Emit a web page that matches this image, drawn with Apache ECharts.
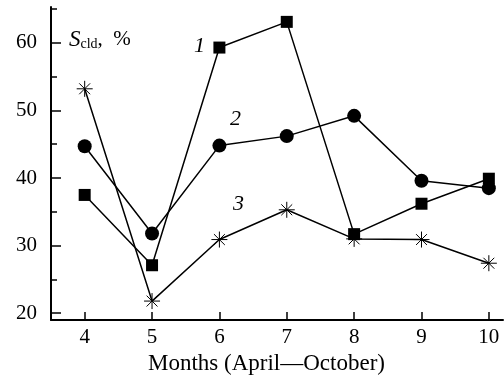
<!DOCTYPE html>
<html><head><meta charset="utf-8">
<script src="https://cdn.jsdelivr.net/npm/echarts@6/dist/echarts.min.js"></script>
<style>html,body{margin:0;padding:0;background:#fff}#c{width:504px;height:383px}</style>
</head><body><div id="c"></div>
<script>
const months = [4, 5, 6, 7, 8, 9, 10];
const series1 = [37.5, 27.1, 59.3, 63.1, 31.7, 36.2, 39.9];
const series2 = [44.7, 31.8, 44.8, 46.2, 49.2, 39.6, 38.5];
const series3 = [53.2, 21.8, 30.9, 35.3, 31.0, 30.9, 27.4];
const yMajorTicks = [20, 30, 40, 50, 60];
const yMinorTicks = [25, 35, 45, 55, 65];
const xTicks = [4, 5, 6, 7, 8, 9, 10];

const FONT = '"Liberation Serif", "DejaVu Serif", serif';
const star = 'path://M0,5L10,5M5,0L5,10M1.6,1.6L8.4,8.4M1.6,8.4L8.4,1.6';
const pairs = arr => months.map((m, i) => [m, arr[i]]);

const chart = echarts.init(document.getElementById('c'), null, {renderer: 'canvas'});
chart.setOption({
  animation: false,
  backgroundColor: '#fff',
  grid: {left: 51, right: 1, top: 7, height: 313},
  xAxis: {
    type: 'value', min: 3.5, max: 10.21,
    axisLine: {lineStyle: {color: '#000', width: 2}},
    axisTick: {inside: true, length: 8, lineStyle: {color: '#000', width: 1.5}, customValues: xTicks},
    axisLabel: {color: '#000', fontFamily: FONT, fontSize: 21, margin: 7, customValues: xTicks},
    splitLine: {show: false},
    name: 'Months (April\u2014October)', nameLocation: 'middle', nameGap: 32,
    nameTextStyle: {color: '#000', fontFamily: FONT, fontSize: 23, padding: [0, 21, 0, 0]}
  },
  yAxis: [{
    type: 'value', min: 19, max: 65.3,
    axisLine: {show: true, lineStyle: {color: '#000', width: 2}},
    axisTick: {inside: true, length: 10, lineStyle: {color: '#000', width: 1.5}, customValues: yMajorTicks},
    axisLabel: {color: '#000', fontFamily: FONT, fontSize: 21, margin: 14, customValues: yMajorTicks},
    splitLine: {show: false}
  }, {
    type: 'value', min: 19, max: 65.3, position: 'left',
    axisLine: {show: false},
    axisTick: {inside: true, length: 6, lineStyle: {color: '#000', width: 1.5}, customValues: yMinorTicks},
    axisLabel: {show: false},
    splitLine: {show: false}
  }],
  series: [{
    type: 'line', data: pairs(series3), symbol: star, symbolSize: 16,
    lineStyle: {color: '#000', width: 1.5},
    itemStyle: {color: 'rgba(0,0,0,0)', borderColor: '#000', borderWidth: 1}, z: 2
  }, {
    type: 'line', data: pairs(series1), symbol: 'rect', symbolSize: 12,
    lineStyle: {color: '#000', width: 1.5}, itemStyle: {color: '#000'}, z: 3
  }, {
    type: 'line', data: pairs(series2), symbol: 'circle', symbolSize: 14,
    lineStyle: {color: '#000', width: 1.5}, itemStyle: {color: '#000'}, z: 4
  }],
  graphic: [
    {type: 'text', left: 69, top: 28, style: {
      rich: {
        s: {fontFamily: FONT, fontStyle: 'italic', fontSize: 23, fill: '#000'},
        sub: {fontFamily: FONT, fontSize: 14, fill: '#000', padding: [9, 0, 0, 0]},
        n: {fontFamily: FONT, fontSize: 21, fill: '#000'}
      },
      text: '{s|S}{sub|cld}{n|,  %}'
    }},
    {type: 'text', left: 194, top: 35, style: {text: '1', font: 'italic 22px ' + FONT, fill: '#000'}},
    {type: 'text', left: 230, top: 108, style: {text: '2', font: 'italic 22px ' + FONT, fill: '#000'}},
    {type: 'text', left: 233, top: 193, style: {text: '3', font: 'italic 22px ' + FONT, fill: '#000'}}
  ]
});
</script></body></html>
